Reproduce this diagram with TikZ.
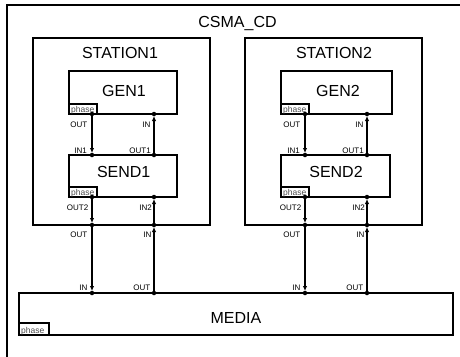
\documentclass[tikz,border=0pt]{standalone}
\usepackage{fontspec}
\setmainfont{Liberation Sans}
\usetikzlibrary{arrows.meta}
\begin{document}
\begin{tikzpicture}[x=1pt,y=-1pt,
  box/.style={draw, line width=1.6pt, anchor=north west, inner sep=0pt, outer sep=0pt},
  big/.style={font=\fontsize{16}{18}\selectfont, anchor=base, inner sep=0pt},
  plab/.style={font=\fontsize{8}{9}\selectfont, anchor=base east, inner sep=0pt},
  phasebox/.style={draw, line width=1.4pt, anchor=south west, minimum width=28pt, minimum height=10pt, inner sep=0pt, outer sep=0pt},
  phtxt/.style={font=\fontsize{8.5}{9}\selectfont, text=black!70, anchor=base west, inner sep=0pt},
  conn/.style={line width=1.6pt, -{Latex[length=5pt,width=4.5pt]}, shorten >=2pt},
  pdot/.style={circle, fill, inner sep=0pt, minimum size=4.5pt}
]
\useasboundingbox (0,0) rectangle (460,356);
\begin{scope}
\clip (0,0) rectangle (460,356);
\draw[line width=1.6pt] (7,360) -- (7,5) -- (470,5) -- (470,360);
\end{scope}
\node[big] (title) at (237.5,27.7) {CSMA\_CD};

% stations
\node[box, minimum width=177pt, minimum height=187pt] (st1) at (33,38) {};
\node[box, minimum width=177pt, minimum height=187pt] (st2) at (245,38) {};
\node[big] (st1t) at (120,58.2) {STATION1};
\node[big] (st2t) at (334,58.2) {STATION2};

% GEN / SEND
\node[box, minimum width=108pt, minimum height=43pt] (gen1) at (69,71) {};
\node[box, minimum width=111pt, minimum height=43pt] (gen2) at (281,71) {};
\node[box, minimum width=108pt, minimum height=42pt] (send1) at (69,155) {};
\node[box, minimum width=109pt, minimum height=42pt] (send2) at (281,155) {};
\node[big] (gen1t) at (124,96) {GEN1};
\node[big] (gen2t) at (338,96) {GEN2};
\node[big] (send1t) at (123.7,177) {SEND1};
\node[big] (send2t) at (336,177) {SEND2};

% MEDIA
\node[box, minimum width=434pt, minimum height=42pt] (media) at (19,293) {};
\node[big] (mediat) at (236,323) {MEDIA};

% phase boxes
\node[phasebox] (ph1) at (69,114) {};
\node[phtxt] (ph1t) at (71,112.5) {phase};
\node[phasebox] (ph2) at (281,114) {};
\node[phtxt] (ph2t) at (283,112.5) {phase};
\node[phasebox] (ph3) at (69,197) {};
\node[phtxt] (ph3t) at (71,195.5) {phase};
\node[phasebox] (ph4) at (281,197) {};
\node[phtxt] (ph4t) at (283,195.5) {phase};
\node[phasebox, minimum width=30pt, minimum height=12pt] (ph5) at (19,335) {};
\node[phtxt] (ph5t) at (21,333.5) {phase};

% port coordinates, station 1
\coordinate (g1o) at (92,114);
\coordinate (g1i) at (154,114);
\coordinate (s1i1) at (92,155);
\coordinate (s1o1) at (154,155);
\coordinate (s1o2) at (92,197);
\coordinate (s1i2) at (154,197);
\coordinate (st1o) at (92,225);
\coordinate (st1i) at (154,225);
\coordinate (m1i) at (92,293);
\coordinate (m1o) at (154,293);
% station 2
\coordinate (g2o) at (305,114);
\coordinate (g2i) at (367,114);
\coordinate (s2i1) at (305,155);
\coordinate (s2o1) at (367,155);
\coordinate (s2o2) at (305,197);
\coordinate (s2i2) at (367,197);
\coordinate (st2o) at (305,225);
\coordinate (st2i) at (367,225);
\coordinate (m2i) at (305,293);
\coordinate (m2o) at (367,293);

% port dots
\foreach \p in {g1o,g1i,s1i1,s1o1,s1o2,s1i2,st1o,st1i,m1i,m1o,
                g2o,g2i,s2i1,s2o1,s2o2,s2i2,st2o,st2i,m2i,m2o}
  \node[pdot] at (\p) {};

% connectors
\foreach \a/\b in {g1o/s1i1, s1o1/g1i, s1o2/st1o, st1o/m1i, m1o/st1i, st1i/s1i2,
                   g2o/s2i1, s2o1/g2i, s2o2/st2o, st2o/m2i, m2o/st2i, st2i/s2i2}
  \draw[conn] (\a) -- (\b);

% port labels station 1
\node[plab] (l1) at (87.5,127) {OUT};
\node[plab] (l2) at (150.5,127) {IN};
\node[plab] (l3) at (87,153.5) {IN1};
\node[plab] (l4) at (151,153.5) {OUT1};
\node[plab] (l5) at (88.5,210) {OUT2};
\node[plab] (l6) at (152,210.5) {IN2};
\node[plab] (l7) at (87.5,237.5) {OUT};
\node[plab] (l8) at (151.5,237.5) {IN};
\node[plab] (l9) at (87.5,290) {IN};
\node[plab] (l10) at (150.5,290) {OUT};
% port labels station 2
\node[plab] (r1) at (300.5,127) {OUT};
\node[plab] (r2) at (363.5,127) {IN};
\node[plab] (r3) at (300,153.5) {IN1};
\node[plab] (r4) at (364,153.5) {OUT1};
\node[plab] (r5) at (301.5,210) {OUT2};
\node[plab] (r6) at (365,210.5) {IN2};
\node[plab] (r7) at (300.5,237.5) {OUT};
\node[plab] (r8) at (364.5,237.5) {IN};
\node[plab] (r9) at (300.5,290) {IN};
\node[plab] (r10) at (363.5,290) {OUT};
\end{tikzpicture}
\end{document}
